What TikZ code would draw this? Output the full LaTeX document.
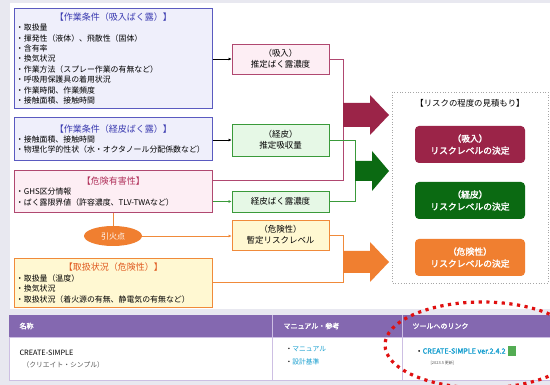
\documentclass[tikz,border=0pt]{standalone}
\usepackage{fontspec}
\setmainfont[AutoFakeBold=2]{Noto Sans CJK JP}
\usetikzlibrary{arrows.meta,shapes.geometric,calc}
\newcommand\ttlfont{\fontsize{9}{10.4}\selectfont}
\definecolor{pagebg}{HTML}{E8E8F0}
\definecolor{blueB}{HTML}{5A5AC0}
\definecolor{blueF}{HTML}{EFEFFB}
\definecolor{blueT}{HTML}{3A3AB0}
\definecolor{crimB}{HTML}{B04870}
\definecolor{crimF}{HTML}{FDEEF4}
\definecolor{crimT}{HTML}{B0305A}
\definecolor{crimD}{HTML}{9B2448}
\definecolor{grnB}{HTML}{3A9A3A}
\definecolor{grnF}{HTML}{E6F8E6}
\definecolor{grnD}{HTML}{0B6A12}
\definecolor{orgB}{HTML}{F08A3A}
\definecolor{orgF}{HTML}{FFF8D2}
\definecolor{orgT}{HTML}{E05A20}
\definecolor{orgD}{HTML}{F07F30}
\definecolor{tblP}{HTML}{8468B0}
\definecolor{tblL}{HTML}{CDBFE3}
\definecolor{linkC}{HTML}{1AA0D0}
\definecolor{dotR}{HTML}{E01010}
\tikzset{
  lbox/.style={draw, line width=0.9pt, minimum width=198pt, inner sep=1.5pt,
    text width=195pt, align=left, anchor=north west,
    font=\fontsize{7.9}{10.4}\selectfont},
  mbox/.style={draw, line width=0.9pt, minimum width=97pt, inner sep=1pt,
    align=center, font=\fontsize{8.5}{11}\selectfont},
  rbox/.style={rounded corners=4pt, minimum width=110pt, minimum height=37pt,
    align=center, text=white, font=\bfseries\fontsize{8.8}{12}\selectfont},
  conn/.style={line width=0.9pt},
  tip/.style={-{Latex[length=3pt,width=3pt]}},
  hdr/.style={text=white, anchor=west, font=\bfseries\fontsize{7}{8}\selectfont},
  cell/.style={anchor=west, font=\fontsize{6.8}{9}\selectfont},
}
\begin{document}
\begin{tikzpicture}[x=1pt,y=-1pt]
\useasboundingbox (0,0) rectangle (550,385);
\fill[pagebg] (0,0) rectangle (550,385);
\fill[white] (10,3) rectangle (550,309);

% left boxes
\node[lbox, draw=blueB, fill=blueF, minimum height=100pt] (inh) at (14,8)
 {\makebox[195pt][c]{\textcolor{blueT}{\ttlfont【作業条件（吸入ばく露）】}}\\
  ・取扱量\\
  ・揮発性（液体）、飛散性（固体）\\
  ・含有率\\
  ・換気状況\\
  ・作業方法（スプレー作業の有無など）\\
  ・呼吸用保護具の着用状況\\
  ・作業時間、作業頻度\\
  ・接触面積、接触時間};
\node[lbox, draw=blueB, fill=blueF, minimum height=43pt] (der) at (14,117)
 {\makebox[195pt][c]{\textcolor{blueT}{\ttlfont【作業条件（経皮ばく露）】}}\\
  ・接触面積、接触時間\\
  ・物理化学的性状（水・オクタノール分配係数など）};
\node[lbox, draw=crimB, fill=crimF, minimum height=42pt] (haz) at (14,170)
 {\makebox[195pt][c]{\textcolor{crimT}{\ttlfont【危険有害性】}}\\
  ・GHS区分情報\\
  ・ばく露限界値（許容濃度、TLV-TWAなど）};
\node[ellipse, fill=orgD, minimum width=58pt, minimum height=20pt, inner sep=0pt,
  text=white, font=\fontsize{8}{9}\selectfont] (flp) at (113,236) {引火点};
\node[lbox, draw=orgB, fill=orgF, minimum height=49pt] (hnd) at (14,258)
 {\makebox[195pt][c]{\textcolor{orgT}{\ttlfont【取扱状況（危険性）】}}\\
  ・取扱量（温度）\\
  ・換気状況\\
  ・取扱状況（着火源の有無、静電気の有無など）};

% middle boxes
\node[mbox, draw=crimB, fill=crimF, minimum height=30pt] (inhm) at (280.5,59) {（吸入）\\推定ばく露濃度};
\node[mbox, draw=grnB, fill=grnF, minimum height=32pt] (derm) at (280.5,140) {（経皮）\\推定吸収量};
\node[mbox, draw=grnB, fill=grnF, minimum height=21pt] (derc) at (280.5,201.5) {経皮ばく露濃度};
\node[mbox, draw=orgB, fill=orgF, minimum height=30pt] (dngm) at (280.5,235) {（危険性）\\暫定リスクレベル};

% junction coordinates
\coordinate (jc) at (343,0);
\coordinate (jg) at (355,0);
\coordinate (hzj) at ($(haz.north east)+(0,10)$);
\coordinate (hdj) at ($(hnd.north east)+(0,24)$);

% connectors
\draw[conn, tip] (inh.east |- inhm.west) -- (inhm.west);
\draw[conn, tip] (der.east |- derm.west) -- (derm.west);
\draw[conn, crimB] (inhm.east) -- (inhm.east -| jc) -- (jc |- hzj) -- (hzj);
\draw[conn, grnB, tip] (haz.east |- derc.west) -- (derc.west);
\draw[conn, grnB] (derm.east) -- (derm.east -| jg) -- (jg |- derc.east) -- (derc.east);
\draw[conn, orgB] (haz.south -| flp.north) -- (flp.north);
\draw[conn, orgB, tip] (flp.east) -- (flp.east -| dngm.west);
\draw[conn, orgB] (dngm.east) -- (dngm.east -| jc) -- ++(0,20);
\draw[conn, orgB] (hdj) -- (hdj -| jc) -- ++(0,-12);

% big arrows
\fill[crimD] (343,103) -- (370,103) -- (370,95) -- (389,115) -- (370,135) -- (370,127) -- (343,127) -- cycle;
\fill[grnD] (355,161) -- (372,161) -- (372,151) -- (389,171) -- (372,191) -- (372,181) -- (355,181) -- cycle;
\fill[orgD] (343,251) -- (370,251) -- (370,242) -- (389,262) -- (370,282) -- (370,273) -- (343,273) -- cycle;

% right dashed panel
\draw[gray!70, dotted, line width=0.7pt] (392,92) rectangle (548,283);
\node[font=\fontsize{8.4}{10}\selectfont] (rtitle) at (470,103) {【リスクの程度の見積もり】};
\node[rbox, fill=crimD] (r1) at (470,144.5) {（吸入）\\リスクレベルの決定};
\node[rbox, fill=grnD] (r2) at (470,200.5) {（経皮）\\リスクレベルの決定};
\node[rbox, fill=orgD] (r3) at (470,257.5) {（危険性）\\リスクレベルの決定};

% table
\fill[tblP] (9,315) rectangle (550,337);
\fill[white] (9,337) rectangle (550,380);
\draw[tblL, line width=0.8pt] (9,337) rectangle (551,380);
\draw[tblL, line width=0.8pt] (272,315) -- (272,380);
\draw[tblL, line width=0.8pt] (402,315) -- (402,380);
\node[hdr] (h1) at (16,326) {名称};
\node[hdr] (h2) at (280,326) {マニュアル・参考};
\node[hdr] (h3) at (409,326) {ツールへのリンク};
\node[cell, font=\fontsize{7.3}{9}\selectfont] (c1) at (16,353) {CREATE-SIMPLE};
\node[cell, gray!70!black] (c1b) at (19,365) {（クリエイト・シンプル）};
\node[cell, text=linkC] (c2) at (282,349) {\textcolor{black}{・}マニュアル};
\node[cell, text=linkC] (c2b) at (282,362) {\textcolor{black}{・}設計基準};
\node[cell, text=linkC, font=\bfseries\fontsize{7.2}{9}\selectfont] (c3) at (412,351) {\textcolor{black}{・}CREATE-SIMPLE ver.2.4.2};
\fill[green!35!gray] ($(c3.east)+(-1,-5)$) rectangle ++(8,10);
\node[cell, font=\fontsize{4}{5}\selectfont, gray!70!black] (c3b) at (427,363) {[2023.5 更新]};

% red dotted ellipse
\draw[dotR, line width=3.2pt, dash pattern=on 3.2pt off 4.5pt] (482,345) ellipse [x radius=97, y radius=43];
\end{tikzpicture}
\end{document}
